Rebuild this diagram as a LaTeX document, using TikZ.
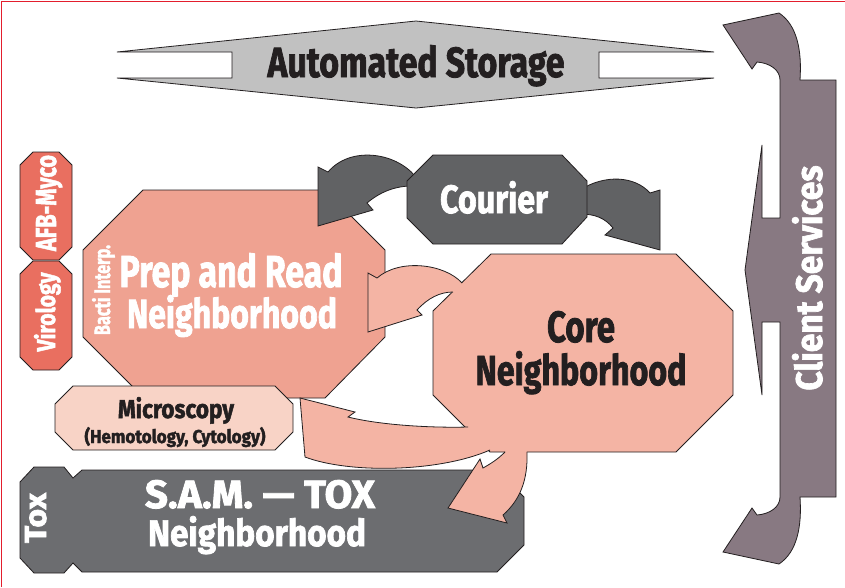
\documentclass[tikz,border=0pt]{standalone}
\usepackage{fontspec}
\usepackage{graphicx}
\newfontfamily\labelfont{Fira Sans}[BoldFeatures={FakeBold=2}]
\definecolor{ink}{HTML}{231F20}
\definecolor{framered}{HTML}{E31E2D}
\definecolor{storage}{HTML}{C1C1C1}
\definecolor{client}{HTML}{887982}
\definecolor{prep}{HTML}{EFA291}
\definecolor{core}{HTML}{F4B4A4}
\definecolor{lab}{HTML}{E96F60}
\definecolor{micro}{HTML}{F8D3C6}
\definecolor{courier}{HTML}{616264}
\definecolor{tox}{HTML}{6C6D70}
% squeeze a label into a given width and height (in pt)
\newcommand{\fitto}[3]{\resizebox{#1pt}{#2pt}{#3}}
\tikzset{
  outline/.style={draw=ink, line width=0.8pt, line join=miter},
  wtext/.style={text=white, inner sep=0pt, font=\labelfont\bfseries},
  btext/.style={text=ink, inner sep=0pt, font=\labelfont\bfseries},
}
\begin{document}
\begin{tikzpicture}[x=1pt, y=-1pt]
\useasboundingbox (0,0) rectangle (845,587);
\fill[white] (0,0) rectangle (845,587);
% frame
\draw[framered, line width=1pt] (1.5,587) -- (1.5,1.5) -- (845,1.5);

% Automated Storage double arrow
\path[outline, fill=storage] (117,52) -- (232,52) -- (232,78) -- (117,78) -- (416,108)
  -- (714,78) -- (599,78) -- (599,52) -- (714,52) -- (416,21) -- cycle;
\node[btext, anchor=base] (storagelbl) at (416,77) {\fitto{297}{32}{Automated Storage}};

% Client Services bar with its arrows
\path[outline, fill=client] (723,25) -- (779,13) .. controls (797,25) and (802,50) .. (800,80)
  -- (836,80) -- (836,497) -- (800,497)
  .. controls (802,527) and (797,552) .. (779,564) -- (723,552) -- (752,508) -- (757,515)
  .. controls (770,514) and (780,507) .. (780,497)
  -- (780,322) -- (762,322) -- (762,395) -- (745,270) -- (762,145) -- (762,218) -- (780,218)
  -- (780,80) .. controls (780,70) and (770,63) .. (757,62) -- (752,69) -- cycle;
\node[wtext, anchor=base, rotate=90] (clientlbl) at (822,278) {\fitto{225}{30}{Client Services}};

% AFB-Myco and Virology benches
\path[outline, fill=lab] (33,152) -- (59,152) -- (72,165) -- (72,247) -- (59,260) -- (33,260) -- (20,247) -- (20,165) -- cycle;
\path[outline, fill=lab] (33,261) -- (59,261) -- (72,274) -- (72,357) -- (59,370) -- (33,370) -- (20,357) -- (20,274) -- cycle;
\node[wtext, anchor=base, rotate=90] (afblbl) at (56,203) {\fitto{96}{20}{AFB-Myco}};
\node[wtext, anchor=base, rotate=90] (virolbl) at (55,312) {\fitto{79}{21}{Virology}};

% Prep and Read neighborhood
\path[outline, fill=prep] (143,190) -- (325,190) -- (385,250) -- (385,337) -- (325,398) -- (144,398) -- (83,337) -- (83,250) -- cycle;
\node[wtext, anchor=base] (preplbl) at (231,287) {\fitto{223}{34}{Prep and Read}};
\node[wtext, anchor=base] (prepnbh) at (232,328) {\fitto{210}{33}{Neighborhood}};
\node[wtext, anchor=base, rotate=90] (bactilbl) at (110,290) {\fitto{90}{18}{Bacti Interp.}};

% Courier arrows, then the Courier box over their roots
\path[outline, fill=courier] (415,176) .. controls (395,152) and (350,146) .. (328,172)
  -- (318,167) -- (318,226) -- (373,210) -- (367,203)
  .. controls (380,192) and (395,186) .. (412,186) -- (430,195) -- cycle;
\path[outline, fill=courier] (580,190) .. controls (605,174) and (635,176) .. (650,193)
  -- (660,190) -- (660,250) -- (605,235) -- (613,228)
  .. controls (605,218) and (595,214) .. (580,214) -- (565,200) -- cycle;
\path[outline, fill=courier] (433,155) -- (562,155) -- (587,181) -- (587,217) -- (562,244) -- (433,244) -- (407,218) -- (407,181) -- cycle;
\node[wtext, anchor=base] (courierlbl) at (494,213) {\fitto{108}{32}{Courier}};

% Microscopy bench
\path[outline, fill=micro] (73,386) -- (275,386) -- (293,404) -- (293,432) -- (275,450) -- (73,450) -- (55,432) -- (55,404) -- cycle;
\node[btext, anchor=base] (microlbl) at (176,418) {\fitto{116}{21}{Microscopy}};
\node[btext, anchor=base] (microsub) at (175,443) {\fitto{181}{16}{(Hemotology, Cytology)}};

% S.A.M. -- TOX neighborhood
\path[outline, fill=tox] (20,482) -- (34,467) -- (64,467) -- (73,478) -- (82,470) -- (497,470) -- (524,497)
  -- (524,545) -- (497,572) -- (82,572) -- (73,563) -- (64,573) -- (34,573) -- (20,558) -- cycle;
\node[wtext, anchor=base] (samlbl) at (260,508) {\fitto{230}{28}{S.A.M. — TOX}};
\node[wtext, anchor=base] (samnbh) at (257,546) {\fitto{218}{30}{Neighborhood}};
\node[wtext, anchor=base, rotate=90] (toxlbl) at (46,518) {\fitto{50}{21}{Tox}};

% Core neighborhood
\path[outline, fill=core] (491,254) -- (676,254) -- (733,311) -- (733,395) -- (676,452) -- (490,452) -- (433,395) -- (433,311) -- cycle;
\node[btext, anchor=base] (corelbl) at (581,342) {\fitto{68}{31}{Core}};
\node[btext, anchor=base] (corenbh) at (581,385) {\fitto{211}{34}{Neighborhood}};

% arrows growing out of the Core box: filled into it, outlined only outside
\fill[core] (462,283) .. controls (445,264) and (400,258) .. (377,278) -- (368,273) -- (368,332)
  -- (422,315) -- (417,310) .. controls (428,298) and (440,292) .. (453,292) -- (470,295) -- cycle;
\draw[outline] (462,283) .. controls (445,264) and (400,258) .. (377,278) -- (368,273) -- (368,332)
  -- (422,315) -- (417,310) .. controls (428,298) and (440,292) .. (453,292);

\fill[core] (468,427) .. controls (430,428) and (380,425) .. (348,417) -- (355,412) -- (300,398) -- (305,457)
  .. controls (350,474) and (440,472) .. (490,450) -- (485,430) -- cycle;
\draw[outline] (468,427) .. controls (430,428) and (380,425) .. (348,417) -- (355,412) -- (300,398) -- (305,457)
  .. controls (350,474) and (440,472) .. (490,450);

\fill[core] (505,452) .. controls (497,460) and (490,464) .. (483,468) -- (480,459) -- (448,508) -- (507,523)
  -- (503,515) .. controls (520,500) and (528,480) .. (527,452) -- (516,440) -- cycle;
\draw[outline] (505,452) .. controls (497,460) and (490,464) .. (483,468) -- (480,459) -- (448,508) -- (507,523)
  -- (503,515) .. controls (520,500) and (528,480) .. (527,452);
\end{tikzpicture}
\end{document}
